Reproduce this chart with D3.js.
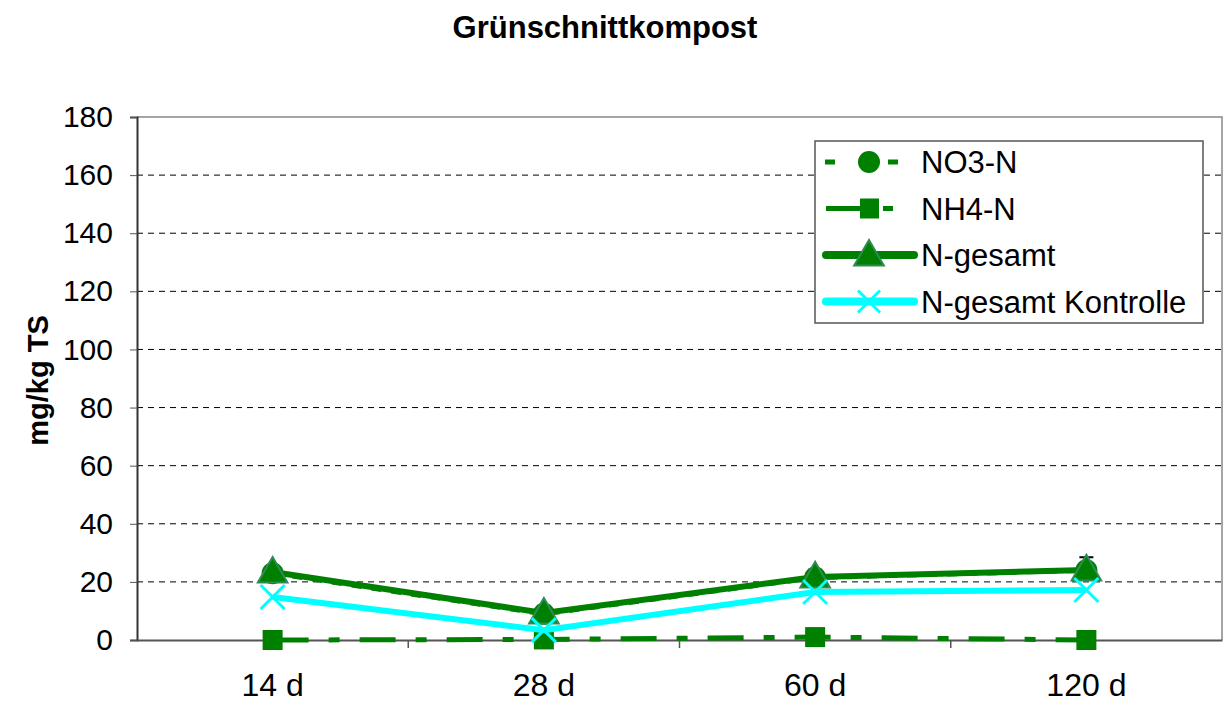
<!DOCTYPE html>
<html>
<head>
<meta charset="utf-8">
<script src="https://cdn.jsdelivr.net/npm/d3@7"></script>
<style>
  body { margin: 0; background: #fff; }
  svg { font-family: Arial, "Liberation Sans", sans-serif; }
</style>
</head>
<body>
<svg id="chart"></svg>
<script>
// data
const categories = ["14 d", "28 d", "60 d", "120 d"];
const no3 = [23.0, 9.0, 21.5, 24.0];
const nh4 = [0.0, 0.2, 1.0, 0.0];
const nGesamt = [23.4, 9.3, 21.7, 24.1];
const kontrolle = [14.8, 3.4, 16.5, 17.2];
const no3Err = [0, 0, 0, 4.5];
const yTicks = [0, 20, 40, 60, 80, 100, 120, 140, 160, 180];

const width = 1224, height = 704;
const margin = { top: 117, right: 2, bottom: 64, left: 137 };

const svg = d3.select("#chart")
    .attr("width", width)
    .attr("height", height)
    .attr("viewBox", [0, 0, width, height]);

const x = d3.scaleBand()
    .domain(categories)
    .range([margin.left, width - margin.right]);

const y = d3.scaleLinear()
    .domain([0, 180])
    .range([height - margin.bottom, margin.top]);

const cx = d => x(d) + x.bandwidth() / 2;

// gridlines
svg.append("g")
    .selectAll("line")
    .data(yTicks.filter(d => d > 0 && d < 180))
    .join("line")
      .attr("x1", margin.left)
      .attr("x2", width - margin.right)
      .attr("y1", d => y(d))
      .attr("y2", d => y(d))
      .attr("stroke", "#000")
      .attr("stroke-width", 1)
      .attr("stroke-dasharray", "6,5");

// plot border top/right
svg.append("path")
    .attr("d", `M${margin.left},${y(180)}H${width - margin.right}V${y(0)}`)
    .attr("fill", "none")
    .attr("stroke", "#888")
    .attr("stroke-width", 1.5);

// y axis
svg.append("g")
    .attr("transform", `translate(${margin.left},0)`)
    .call(d3.axisLeft(y).tickValues(yTicks).tickSize(7).tickPadding(17))
    .call(g => {
        g.select(".domain").attr("stroke", "#333").attr("stroke-width", 2);
        g.selectAll(".tick line").attr("stroke", "#555");
        g.selectAll(".tick text").attr("font-size", 30).attr("fill", "#000")
            .attr("font-family", "Arial, 'Liberation Sans', sans-serif");
    });

// x axis
svg.append("g")
    .attr("transform", `translate(0,${y(0)})`)
    .call(d3.axisBottom(x).tickSize(0).tickPadding(33))
    .call(g => {
        g.select(".domain").attr("stroke", "#555").attr("stroke-width", 2);
        g.selectAll(".tick text").attr("font-size", 32).attr("fill", "#000")
            .attr("font-family", "Arial, 'Liberation Sans', sans-serif");
    });

// x tick marks between categories
svg.append("g")
    .selectAll("line")
    .data(categories.slice(1))
    .join("line")
      .attr("x1", d => x(d))
      .attr("x2", d => x(d))
      .attr("y1", y(0))
      .attr("y2", y(0) + 8)
      .attr("stroke", "#555")
      .attr("stroke-width", 1.5);

const line = d3.line()
    .x((d, i) => cx(categories[i]))
    .y(d => y(d));

const green = "#008000";
const cyan = "#00ffff";

// NO3-N dashed line + circles
svg.append("path")
    .datum(no3)
    .attr("d", line)
    .attr("fill", "none")
    .attr("stroke", green)
    .attr("stroke-width", 5)
    .attr("stroke-dasharray", "10,10");

// error caps
svg.append("g")
    .selectAll("path")
    .data(no3Err.map((e, i) => ({ e, i })).filter(d => d.e > 0))
    .join("path")
      .attr("d", d => {
          const px = cx(categories[d.i]);
          const y1 = y(no3[d.i] + d.e);
          return `M${px},${y(no3[d.i])}V${y1}M${px - 7},${y1}H${px + 7}`;
      })
      .attr("stroke", "#000")
      .attr("stroke-width", 2)
      .attr("fill", "none");

svg.append("g")
    .selectAll("circle")
    .data(no3)
    .join("circle")
      .attr("cx", (d, i) => cx(categories[i]))
      .attr("cy", d => y(d))
      .attr("r", 11)
      .attr("fill", green);

// NH4-N dash-dot line + squares
svg.append("path")
    .datum(nh4)
    .attr("d", line)
    .attr("fill", "none")
    .attr("stroke", green)
    .attr("stroke-width", 5)
    .attr("stroke-dasharray", "36,20,11,20");

svg.append("g")
    .selectAll("rect")
    .data(nh4)
    .join("rect")
      .attr("x", (d, i) => cx(categories[i]) - 10)
      .attr("y", d => y(d) - 10)
      .attr("width", 20)
      .attr("height", 20)
      .attr("fill", green);

// N-gesamt
svg.append("path")
    .datum(nGesamt)
    .attr("d", line)
    .attr("fill", "none")
    .attr("stroke", green)
    .attr("stroke-width", 6);

const tri = d3.symbol().type(d3.symbolTriangle).size(380);

svg.append("g")
    .selectAll("path")
    .data(nGesamt)
    .join("path")
      .attr("transform", (d, i) => `translate(${cx(categories[i])},${y(d) + 2})`)
      .attr("d", tri)
      .attr("fill", green)
      .attr("stroke", "#2e8b57")
      .attr("stroke-width", 2);

// N-gesamt Kontrolle
svg.append("path")
    .datum(kontrolle)
    .attr("d", line)
    .attr("fill", "none")
    .attr("stroke", cyan)
    .attr("stroke-width", 6);

const xMark = s => `M${-s},${-s}L${s},${s}M${-s},${s}L${s},${-s}`;

svg.append("g")
    .selectAll("path")
    .data(kontrolle)
    .join("path")
      .attr("transform", (d, i) => `translate(${cx(categories[i])},${y(d)})`)
      .attr("d", xMark(12))
      .attr("stroke", cyan)
      .attr("stroke-width", 3)
      .attr("fill", "none");

// title
svg.append("text")
    .attr("x", 605)
    .attr("y", 38)
    .attr("text-anchor", "middle")
    .attr("font-size", 31)
    .attr("font-weight", "bold")
    .text("Grünschnittkompost");

// y label
svg.append("text")
    .attr("transform", `translate(48,${(y(0) + y(180)) / 2 + 2}) rotate(-90)`)
    .attr("text-anchor", "middle")
    .attr("font-size", 29)
    .attr("font-weight", "bold")
    .text("mg/kg TS");

// legend
const legendItems = [
    { name: "NO3-N", dash: "10,53", x1: 10, x2: 83, width: 5, marker: "circle", color: green },
    { name: "NH4-N", dash: "53,4,10", x1: 11, x2: 78, width: 5, marker: "square", color: green },
    { name: "N-gesamt", dash: null, x1: 11, x2: 99, width: 8, marker: "triangle", color: green },
    { name: "N-gesamt Kontrolle", dash: null, x1: 11, x2: 99, width: 8, marker: "x", color: cyan }
];

const lg = svg.append("g").attr("transform", "translate(815,141)");
lg.append("rect")
    .attr("width", 388)
    .attr("height", 182)
    .attr("fill", "#fff")
    .attr("stroke", "#555")
    .attr("stroke-width", 1.5);

const rows = lg.selectAll("g")
    .data(legendItems)
    .join("g")
      .attr("transform", (d, i) => `translate(0,${21 + i * 46.5})`);

rows.append("line")
    .attr("x1", d => d.x1)
    .attr("x2", d => d.x2)
    .attr("stroke", d => d.color)
    .attr("stroke-width", d => d.width)
    .attr("stroke-linecap", d => d.dash ? "butt" : "round")
    .attr("stroke-dasharray", d => d.dash);

rows.each(function(d) {
    const g = d3.select(this);
    if (d.marker === "circle") {
        g.append("circle").attr("cx", 54).attr("r", 11).attr("fill", d.color);
    } else if (d.marker === "square") {
        g.append("rect").attr("x", 45).attr("y", -10).attr("width", 19).attr("height", 20).attr("fill", d.color);
    } else if (d.marker === "triangle") {
        g.append("path").attr("transform", "translate(54,2)").attr("d", tri)
            .attr("fill", d.color).attr("stroke", "#2e8b57").attr("stroke-width", 2);
    } else {
        g.append("path").attr("transform", "translate(54,0)").attr("d", xMark(11))
            .attr("stroke", d.color).attr("stroke-width", 3);
    }
});

rows.append("text")
    .attr("x", 106)
    .attr("y", 11)
    .attr("font-size", 31)
    .text(d => d.name);
</script>
</body>
</html>
